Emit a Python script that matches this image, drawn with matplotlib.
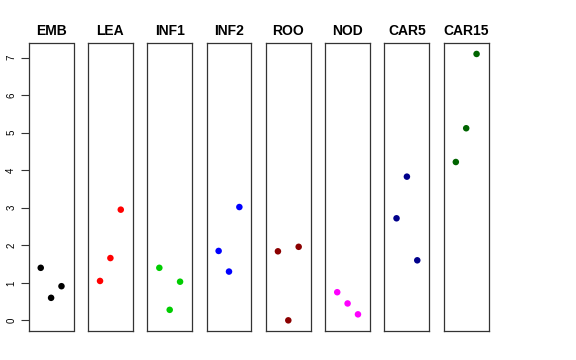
import matplotlib
matplotlib.use("Agg")
import matplotlib.pyplot as plt

plt.rcParams['font.family'] = ['Liberation Sans', 'DejaVu Sans']

categories = ["EMB", "LEA", "INF1", "INF2", "ROO", "NOD", "CAR5", "CAR15"]
colors = ["#000000", "#FF0000", "#00CD00", "#0000FF", "#8B0000", "#FF00FF", "#00008B", "#006400"]
values = {
    "EMB":   [1.40, 0.60, 0.91],
    "LEA":   [1.05, 1.66, 2.95],
    "INF1":  [1.40, 0.28, 1.03],
    "INF2":  [1.85, 1.30, 3.02],
    "ROO":   [1.84, 0.00, 1.96],
    "NOD":   [0.75, 0.45, 0.16],
    "CAR5":  [2.72, 3.83, 1.60],
    "CAR15": [4.22, 5.12, 7.10],
}
xpos = [1, 2, 3]
yticks = [0, 1, 2, 3, 4, 5, 6, 7]

W, H = 576, 360
fig = plt.figure(figsize=(W / 100, H / 100), dpi=100)

left0, step, width = 28.7, 59.3, 44.8
top, bottom = 43.3, 331.0
ymin, ymax = 0.0, 7.1
pad = (ymax - ymin) * 0.04

for i, cat in enumerate(categories):
    l = left0 + i * step
    ax = fig.add_axes([l / W, 1 - bottom / H, width / W, (bottom - top) / H])
    ax.scatter(xpos, values[cat], s=22, color=colors[i], edgecolors='none', zorder=3)
    ax.set_xlim(0 - 0.16, 4 + 0.16)
    ax.set_ylim(ymin - pad, ymax + pad)
    ax.set_xticks([])
    for sp in ax.spines.values():
        sp.set_linewidth(0.9)
        sp.set_color('#333333')
    ax.set_title(cat, fontsize=10, fontweight='bold', pad=6)
    if i == 0:
        ax.set_yticks(yticks)
        ax.set_yticklabels([str(v) for v in yticks], rotation=90, va='center', fontsize=7)
        ax.tick_params(axis='y', length=6, width=0.8, pad=3, color='#333333')
    else:
        ax.set_yticks([])

fig.savefig("out.png", dpi=100)
